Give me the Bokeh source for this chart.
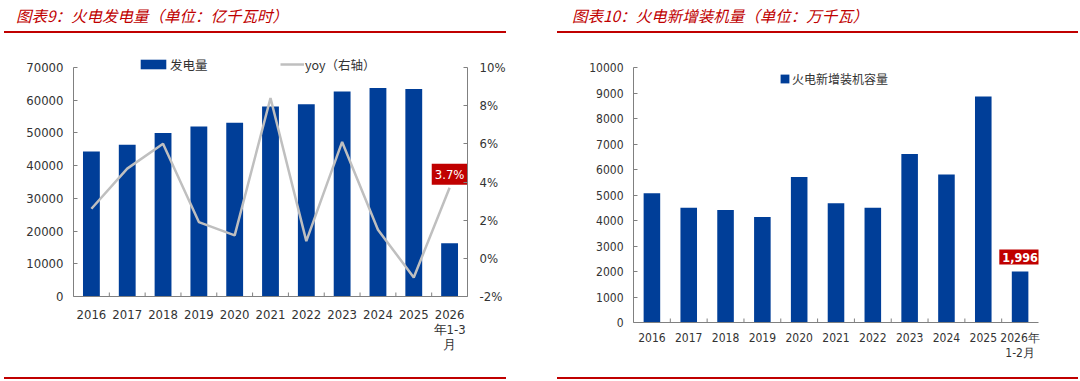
from math import pi
from bokeh.plotting import figure
from bokeh.models import (ColumnDataSource, Range1d, LinearAxis, Legend, LegendItem,
                          Div, PrintfTickFormatter, FixedTicker)
from bokeh.core.properties import value
from bokeh.transform import dodge
from bokeh.layouts import row, column
from bokeh.embed import file_html
from bokeh.resources import INLINE

# ---------------- data ----------------
gen_cats = ["2016", "2017", "2018", "2019", "2020", "2021", "2022", "2023", "2024", "2025", "2026\n年1-3\n月"]
gen_values = [44300, 46400, 50000, 52000, 53100, 58100, 58800, 62700, 63700, 63400, 16300]
gen_yoy = [2.6, 4.7, 6.0, 1.9, 1.2, 8.4, 0.9, 6.1, 1.5, -1.0, 3.7]
gen_yticks = [0, 10000, 20000, 30000, 40000, 50000, 60000, 70000]
yoy_ticks = [-2, 0, 2, 4, 6, 8, 10]

cap_cats = ["2016", "2017", "2018", "2019", "2020", "2021", "2022", "2023", "2024", "2025", "2026年\n1-2月"]
cap_values = [5070, 4500, 4410, 4140, 5710, 4680, 4500, 6610, 5800, 8860, 1996]
cap_yticks = [0, 1000, 2000, 3000, 4000, 5000, 6000, 7000, 8000, 9000, 10000]

title_left = "图表9：火电发电量（单位：亿千瓦时）"
title_right = "图表10：火电新增装机量（单位：万千瓦）"

BLUE = "#003e98"
GRAY_LINE = "#bfbfbf"
RED = "#c00000"
AXIS = "#808080"
FONT = "DejaVu Sans Condensed"
CJK = "Noto Sans CJK SC"

# left frame is extended above the top tick so the legend fits inside it
EXT = 244 / 229


def style_axis(ax, size):
    ax.axis_line_color = AXIS
    ax.major_tick_line_color = AXIS
    ax.major_tick_in = 4
    ax.major_tick_out = 0
    ax.minor_tick_line_color = None
    ax.major_label_text_font = FONT
    ax.major_label_text_font_size = size
    ax.major_label_text_color = "#333333"


def base_fig(cats, yr, width, bl, br, bt, bb):
    p = figure(x_range=cats, y_range=yr, width=width, height=338,
               min_border_left=bl, min_border_right=br, min_border_top=bt, min_border_bottom=bb,
               output_backend="svg", toolbar_location=None)
    p.xgrid.visible = False
    p.ygrid.visible = False
    p.outline_line_color = None
    p.background_fill_color = "white"
    p.border_fill_color = "white"
    return p


def boundary_ticks(p, cats):
    # small inward ticks between categories on the x axis
    src = ColumnDataSource(dict(cat=cats[:-1], y=[0] * (len(cats) - 1)))
    p.scatter(x=dodge("cat", 0.5, range=p.x_range), y="y", source=src, marker="dash",
              angle=pi / 2, size=8, line_color=AXIS, line_width=1)


def title_div(text, width, text_left, line_left, line_width):
    html = (f'<div style="position:relative;width:{width}px;height:34px;overflow:visible;">'
            f'<div style="position:absolute;left:{text_left}px;top:6px;font-family:\'{CJK}\';'
            f'font-style:italic;font-size:15.5px;line-height:18px;color:{RED};white-space:nowrap;">{text}</div>'
            f'<div style="position:absolute;left:{line_left}px;top:31px;width:{line_width}px;height:2px;'
            f'background:{RED};"></div>'
            f'<div style="position:absolute;left:{line_left}px;top:377px;width:{line_width}px;height:2px;'
            f'background:{RED};"></div></div>')
    return Div(text=html, width=width, height=34, margin=0, styles={"overflow": "visible"})


def bottom_div(width, line_left, line_width):
    html = (f'<div style="position:relative;width:{width}px;height:7px;">'
            f'<div style="position:absolute;left:{line_left}px;top:5px;width:{line_width}px;height:2px;'
            f'background:{RED};"></div></div>')
    return Div(text=html, width=width, height=7, margin=0, styles={"overflow": "visible"})


# ---------------- left chart ----------------
p1 = base_fig(gen_cats, Range1d(0, gen_yticks[-1] * EXT), 535, 73, 68, 18, 76)
p1.extra_y_ranges = {"yoy": Range1d(yoy_ticks[0], yoy_ticks[0] + (yoy_ticks[-1] - yoy_ticks[0]) * EXT)}
src1 = ColumnDataSource(dict(cat=gen_cats, val=gen_values, yoy=gen_yoy))
bars1 = p1.vbar(x="cat", top="val", width=0.47, source=src1, fill_color=BLUE, line_color=None)
line1 = p1.line(x="cat", y="yoy", source=src1, y_range_name="yoy",
                line_color=GRAY_LINE, line_width=2.5)
boundary_ticks(p1, gen_cats)

p1.yaxis.ticker = FixedTicker(ticks=gen_yticks)
p1.yaxis.formatter = PrintfTickFormatter(format="%d")
p1.yaxis.bounds = (gen_yticks[0], gen_yticks[-1])
style_axis(p1.yaxis[0], "13px")
p1.yaxis.major_label_standoff = 10

ax_r = LinearAxis(y_range_name="yoy", ticker=FixedTicker(ticks=yoy_ticks),
                  formatter=PrintfTickFormatter(format="%d%%"),
                  bounds=(yoy_ticks[0], yoy_ticks[-1]))
style_axis(ax_r, "13px")
ax_r.major_label_standoff = 12
p1.add_layout(ax_r, "right")

style_axis(p1.xaxis[0], "13px")
p1.xaxis.major_tick_line_color = None
p1.xaxis.major_label_standoff = 10
p1.xaxis.major_label_text_line_height = 1.0

leg_a = Legend(items=[LegendItem(label="发电量", renderers=[bars1])], location=(64, 222),
               orientation="horizontal", glyph_width=32, glyph_height=12, label_standoff=1,
               padding=0, margin=0, border_line_color=None, background_fill_alpha=0,
               label_text_font=CJK, label_text_font_size="12.5px", label_text_color="#333333",
               label_height=20)
leg_b = Legend(items=[LegendItem(label="yoy（右轴）", renderers=[line1])], location=(207, 222),
               orientation="horizontal", glyph_width=24, glyph_height=12, label_standoff=1,
               padding=0, margin=0, border_line_color=None, background_fill_alpha=0,
               label_text_font=CJK, label_text_font_size="12.5px", label_text_color="#333333",
               label_height=20)
p1.add_layout(leg_a, "center")
p1.add_layout(leg_b, "center")

lab1_src = ColumnDataSource(dict(x=[gen_cats[-1]], y=[gen_yoy[-1]], t=[f"{gen_yoy[-1]}%"]))
p1.text(x="x", y="y", text="t", source=lab1_src, y_range_name="yoy",
        text_align="center", text_baseline="bottom", y_offset=-3,
        background_fill_color=RED, text_color="white", text_font=value(FONT),
        text_font_size="13px", padding=3)

# ---------------- right chart ----------------
p2 = base_fig(cap_cats, Range1d(0, cap_yticks[-1]), 545, 98, 42, 33, 50)
src2 = ColumnDataSource(dict(cat=cap_cats, val=cap_values))
bars2 = p2.vbar(x="cat", top="val", width=0.45, source=src2, fill_color=BLUE, line_color=None)
boundary_ticks(p2, cap_cats)

p2.yaxis.ticker = FixedTicker(ticks=cap_yticks)
p2.yaxis.formatter = PrintfTickFormatter(format="%d")
style_axis(p2.yaxis[0], "12px")
p2.yaxis.major_label_standoff = 10

style_axis(p2.xaxis[0], "12px")
p2.xaxis.major_tick_line_color = None
p2.xaxis.major_label_standoff = 8
p2.xaxis.major_label_text_line_height = 1.1

leg_c = Legend(items=[LegendItem(label="火电新增装机容量", renderers=[bars2])], location=(146, 234),
               orientation="horizontal", glyph_width=11, glyph_height=11, label_standoff=2,
               padding=0, margin=0, border_line_color=None, background_fill_alpha=0,
               label_text_font=CJK, label_text_font_size="12px", label_text_color="#333333",
               label_height=20)
p2.add_layout(leg_c, "center")

lab2_src = ColumnDataSource(dict(x=[cap_cats[-1]], y=[cap_values[-1]], t=[f"{cap_values[-1]:,}"]))
p2.text(x="x", y="y", text="t", source=lab2_src,
        text_align="center", text_baseline="bottom", y_offset=-7,
        background_fill_color=RED, text_color="white", text_font=value(FONT),
        text_font_size="12.5px", text_font_style="bold", padding=3)

# ---------------- layout ----------------
left = column(title_div(title_left, 535, 16, 4, 502), p1, bottom_div(535, 4, 502), spacing=0)
right = column(title_div(title_right, 545, 37, 22, 521), p2, bottom_div(545, 22, 521), spacing=0)
layout = row(left, right, spacing=0)

open("out.html", "w").write(file_html(layout, INLINE))
